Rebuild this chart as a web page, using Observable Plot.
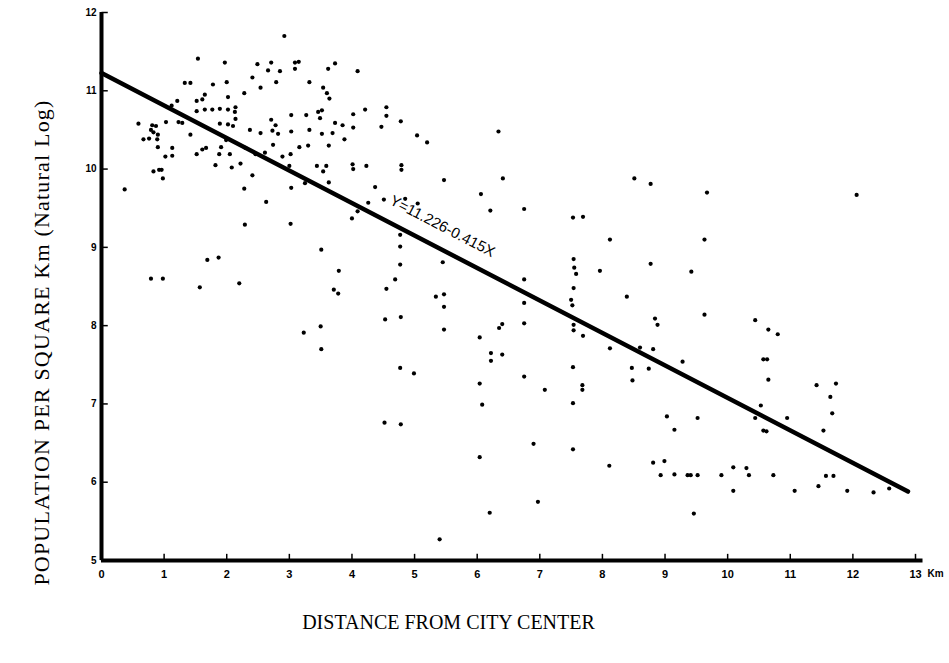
<!DOCTYPE html>
<html>
<head>
<meta charset="utf-8">
<script src="https://cdn.jsdelivr.net/npm/d3@7"></script>
<script src="https://cdn.jsdelivr.net/npm/@observablehq/plot@0.6"></script>
<style>
  html, body { margin: 0; padding: 0; background: #fff; }
  #chart svg { display: block; }
</style>
</head>
<body>
<div id="chart"></div>
<script>
// ---- data ----
const distanceKm = [
  2.92,1.54,1.97,2.49,2.71,3.09,3.15,2.66,2.85,3.09,3.62,2.41,1.33,1.42,1.78,2.00,2.79,3.32,2.54,3.54,
  3.60,3.64,2.28,1.65,1.61,2.02,1.52,1.21,1.12,2.14,1.65,1.77,1.89,2.02,1.52,2.13,3.03,3.27,3.46,3.52,
  2.14,2.71,3.49,1.23,1.29,0.59,1.03,1.89,2.02,2.10,2.78,0.81,0.87,0.79,2.37,2.73,3.03,3.32,0.83,0.90,
  1.42,2.54,2.82,3.52,0.67,0.76,0.89,1.99,2.74,3.16,3.30,3.63,0.90,1.13,1.61,1.67,1.91,2.30,1.52,1.88,
  2.05,2.46,2.61,2.89,3.02,1.02,1.13,1.82,2.22,2.08,3.00,3.44,3.59,0.83,0.92,0.96,0.98,2.41,3.54,3.63,
  3.25,3.03,2.28,0.37,3.73,4.09,4.21,4.55,4.02,4.55,4.78,3.73,3.85,4.02,4.47,3.69,3.88,5.04,5.20,6.34,
  4.01,4.02,4.23,4.79,4.79,5.47,6.41,4.37,6.06,4.51,4.85,2.63,2.29,3.02,3.51,1.69,1.87,0.79,0.98,1.57,
  2.20,3.50,3.23,3.51,5.05,4.26,4.09,4.00,6.21,6.75,4.77,4.77,5.45,4.77,3.79,4.69,6.75,3.71,3.78,4.55,
  5.34,5.47,5.47,6.75,4.53,4.78,5.47,6.75,6.40,6.35,6.04,6.22,6.40,6.22,4.77,4.99,6.75,6.04,7.08,6.08,
  4.52,4.78,6.90,6.04,6.97,6.20,5.40,8.51,8.77,9.67,7.53,7.69,8.12,9.63,7.54,7.55,7.58,7.96,8.77,9.42,
  7.54,7.50,7.52,8.39,9.63,7.54,7.54,8.84,8.88,7.69,8.12,8.81,7.53,8.47,8.60,8.74,9.28,7.68,7.68,8.48,
  7.53,9.03,9.52,9.15,7.53,8.11,8.81,8.99,8.93,9.15,9.36,9.41,9.52,9.90,10.09,10.30,10.34,10.09,9.46,12.06,
  10.65,10.80,10.44,10.57,10.63,10.65,11.42,11.73,10.53,11.64,10.44,10.95,11.67,10.57,10.62,11.53,10.73,11.57,11.69,11.07,
  11.45,11.91,12.33,12.58
];
const logDensity = [
  11.70,11.41,11.36,11.34,11.36,11.36,11.37,11.26,11.25,11.28,11.28,11.17,11.10,11.10,11.08,11.11,11.11,11.11,11.04,11.04,
  10.97,10.90,10.97,10.95,10.89,10.92,10.87,10.87,10.81,10.79,10.76,10.76,10.77,10.76,10.74,10.73,10.69,10.69,10.73,10.75,
  10.64,10.63,10.65,10.60,10.59,10.58,10.60,10.58,10.57,10.55,10.56,10.56,10.55,10.50,10.50,10.49,10.48,10.50,10.47,10.44,
  10.44,10.46,10.45,10.45,10.38,10.39,10.38,10.37,10.31,10.28,10.30,10.30,10.28,10.27,10.25,10.27,10.28,10.27,10.19,10.19,
  10.19,10.19,10.21,10.16,10.19,10.16,10.17,10.05,10.07,10.02,10.04,10.04,10.04,9.97,9.99,9.99,9.88,9.92,9.97,9.83,
  9.82,9.76,9.75,9.74,11.35,11.25,10.76,10.79,10.70,10.68,10.61,10.59,10.56,10.53,10.54,10.46,10.38,10.43,10.34,10.48,
  10.06,10.00,10.04,10.05,9.99,9.86,9.88,9.77,9.68,9.61,9.62,9.58,9.29,9.30,8.97,8.84,8.87,8.60,8.60,8.49,
  8.54,7.99,7.91,7.70,9.56,9.57,9.46,9.37,9.47,9.49,9.16,9.01,8.81,8.78,8.70,8.59,8.59,8.46,8.41,8.47,
  8.37,8.40,8.24,8.29,8.08,8.11,7.95,8.03,8.02,7.97,7.85,7.65,7.63,7.55,7.46,7.39,7.35,7.26,7.18,6.99,
  6.76,6.74,6.49,6.32,5.75,5.61,5.27,9.88,9.81,9.70,9.38,9.39,9.10,9.10,8.85,8.74,8.66,8.70,8.79,8.69,
  8.48,8.33,8.26,8.37,8.14,8.01,7.94,8.09,8.01,7.87,7.71,7.70,7.47,7.46,7.72,7.45,7.54,7.24,7.18,7.30,
  7.01,6.84,6.82,6.67,6.42,6.21,6.25,6.27,6.09,6.10,6.09,6.09,6.09,6.09,6.19,6.18,6.09,5.89,5.60,9.67,
  7.95,7.89,8.07,7.57,7.57,7.31,7.24,7.26,6.98,7.09,6.82,6.82,6.88,6.66,6.65,6.66,6.09,6.08,6.08,5.89,
  5.95,5.89,5.87,5.92
];
// regression printed on the chart: Y = 11.226 - 0.415X
const intercept = 11.226;
const slope = -0.415;
const lineExtentKm = [0, 12.88];
const equationText = ["Y=11.226-0.415X"];
const equationAtKm = 5.3;

const xTicks = [0,1,2,3,4,5,6,7,8,9,10,11,12,13];
const yTicks = [5,6,7,8,9,10,11,12];
const xTitle = "DISTANCE FROM CITY CENTER";
const yTitle = "POPULATION PER SQUARE Km (Natural Log)";
const unitLabel = "Km";

// ---- build tables ----
const points = distanceKm.map((d, i) => ({x: d, y: logDensity[i]}));
const regLine = lineExtentKm.map(x => ({x, y: intercept + slope * x}));
const eq = equationText.map(t => ({t, x: equationAtKm, y: intercept + slope * equationAtKm}));

const serif = "'Liberation Serif', 'DejaVu Serif', serif";
const sans = "'Liberation Sans', Arial, sans-serif";

const chart = Plot.plot({
  width: 949,
  height: 663,
  marginLeft: 101,
  marginRight: 34,
  marginTop: 12,
  marginBottom: 103,
  x: {domain: [0, 13], label: null},
  y: {domain: [5, 12], label: null},
  style: {background: "#fff", color: "#000"},
  marks: [
    Plot.axisX({ticks: xTicks, tickSize: 0, tickPadding: 10, fontSize: 11, fontWeight: "bold",
      fontFamily: sans, label: null, tickFormat: d => String(d)}),
    Plot.axisY({ticks: yTicks, tickSize: 0, tickPadding: 5, fontSize: 10, fontWeight: "bold",
      fontFamily: sans, label: null, tickFormat: d => String(d)}),
    Plot.text([unitLabel], {frameAnchor: "bottom-right", dx: 12, dy: 16, fontSize: 10,
      fontWeight: "bold", fontFamily: sans, textAnchor: "start"}),
    // inward ticks
    Plot.link(xTicks, {x1: d => d, x2: d => d, y1: 5, y2: 5.085, stroke: "#000", strokeWidth: 1.5}),
    Plot.link(yTicks, {x1: 0, x2: 0.1, y1: d => d, y2: d => d, stroke: "#000", strokeWidth: 1.5}),
    // axis lines
    Plot.ruleY([5], {x1: 0, x2: 13.12, stroke: "#000", strokeWidth: 4}),
    Plot.ruleX([0], {y1: 5, y2: 12, stroke: "#000", strokeWidth: 4}),
    // regression line
    Plot.line(regLine, {x: "x", y: "y", stroke: "#000", strokeWidth: 4.5}),
    // observations
    Plot.dot(points, {x: "x", y: "y", r: 2.1, fill: "#000", stroke: null}),
    // equation label
    Plot.text(eq, {x: "x", y: "y", text: "t", rotate: 27.4, dx: 9, dy: -19, fontSize: 15,
      fontFamily: sans, fill: "#000"}),
    // axis titles
    Plot.text([xTitle], {frameAnchor: "bottom", dx: -60, dy: 68, fontSize: 20, fontFamily: serif,
      fill: "#000", textAnchor: "middle"}),
    Plot.text([yTitle], {frameAnchor: "left", dx: -60, dy: 56, rotate: -90, fontSize: 22,
      fontFamily: serif, fill: "#000", textAnchor: "middle"})
  ]
});
// slightly wider tracking on the vertical title, as in the reference
d3.select(chart).selectAll("text").filter(function() { return this.textContent === yTitle; })
  .style("letter-spacing", "1.2px");
document.getElementById("chart").appendChild(chart);
</script>
</body>
</html>
